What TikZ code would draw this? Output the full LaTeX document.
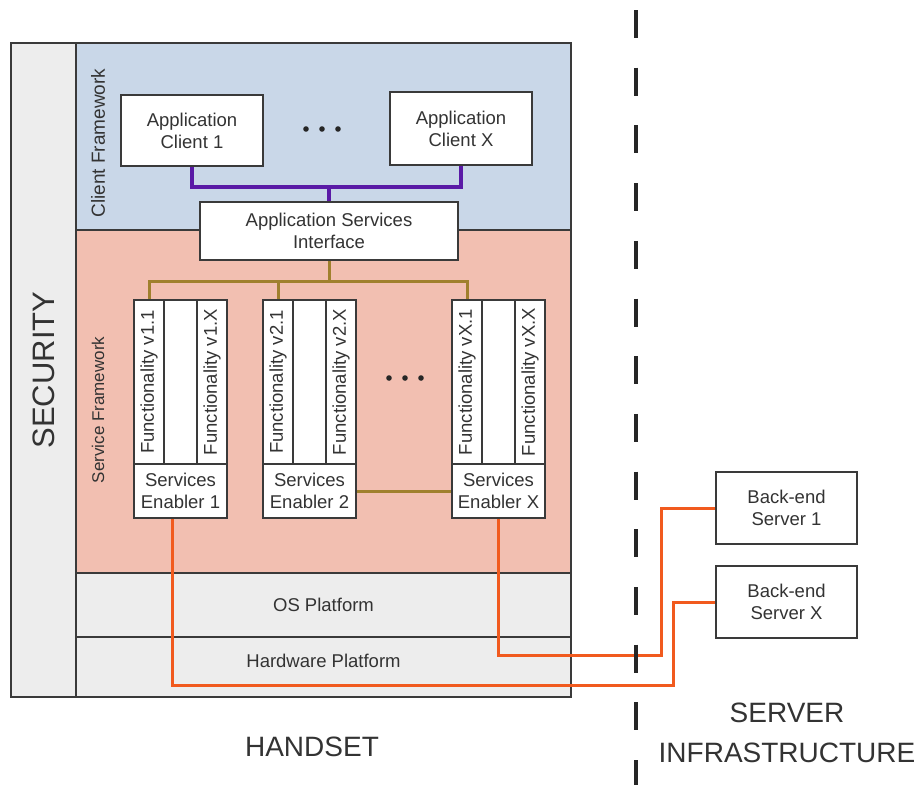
\documentclass[tikz,border=0pt]{standalone}
\usepackage{fontspec}
\usepackage{graphicx}
\setmainfont{Liberation Sans}
\definecolor{txt}{HTML}{333333}
\definecolor{cfblue}{HTML}{C9D7E8}
\definecolor{sfpink}{HTML}{F2BFB1}
\definecolor{platgray}{HTML}{EDEDED}
\definecolor{linepurple}{HTML}{5A1AA6}
\definecolor{lineolive}{HTML}{A0802E}
\definecolor{lineorange}{HTML}{F15A1E}
\definecolor{edge}{HTML}{3A3A3A}
\tikzset{
  region/.style={draw=edge, line width=1.6pt, inner sep=0pt, text=txt, font=\fontsize{18.5}{22}\selectfont},
  box/.style={draw=edge, fill=white, line width=1.8pt, align=center, text=txt, inner sep=0pt, font=\fontsize{18.5}{22}\selectfont},
  lbl/.style={text=txt, inner sep=0pt, align=center, font=\fontsize{19}{22}\selectfont},
  biglbl/.style={text=txt, inner sep=0pt, align=center, font=\fontsize{28}{40}\selectfont},
  purplelink/.style={draw=linepurple, line width=3.6pt},
  olivelink/.style={draw=lineolive, line width=3pt},
  orangelink/.style={draw=lineorange, line width=3pt},
  dashline/.style={draw=black!85, line width=4pt, dash pattern=on 28pt off 29.7pt},
  dotmark/.style={fill=black!85}
}
\begin{document}
\begin{tikzpicture}[x=1pt,y=-1pt]
\useasboundingbox (0,0) rectangle (923,785);
% regions
\node[region, fill=platgray, minimum width=65, minimum height=654] (sec) at (43.5,370) {\fontsize{31}{34}\selectfont\rotatebox{90}{SECURITY}};
\node[region, fill=cfblue, minimum width=495, minimum height=187] (cf) at (323.5,136.5) {};
\node[region, fill=sfpink, minimum width=495, minimum height=343] (sf) at (323.5,401.5) {};
\node[region, fill=platgray, minimum width=495, minimum height=64] (os) at (323.5,605) {OS Platform};
\node[region, fill=platgray, minimum width=495, minimum height=60] (hw) at (323.5,667) {};
\node[lbl, font=\fontsize{18.5}{22}\selectfont] (hwt) at (323.5,661) {Hardware Platform};
\node[lbl] (cft) at (98,143) {\rotatebox{90}{Client Framework}};
\node[lbl, font=\fontsize{17}{20}\selectfont] (sft) at (98,410) {\rotatebox{90}{Service Framework}};
% client boxes
\node[box, minimum width=142, minimum height=71] (c1) at (192,130.5) {Application\\Client 1};
\node[box, minimum width=142, minimum height=73] (cX) at (461,128.5) {Application\\Client X};
\node[box, minimum width=258, minimum height=58] (asi) at (329,231) {Application Services\\Interface};
% functionality stacks
\foreach \k/\x in {1/134, 2/263, X/452} {
  \node[box, minimum width=30, minimum height=164] (fa\k) at (\x+15,382) {\rotatebox{90}{Functionality v\k.1}};
  \node[box, minimum width=33, minimum height=164] (fm\k) at (\x+46.5,382) {};
  \node[box, minimum width=30, minimum height=164] (fb\k) at (\x+78,382) {\rotatebox{90}{Functionality v\k.X}};
  \node[box, minimum width=93, minimum height=54] (e\k) at (\x+46.5,491) {Services\\Enabler \k};
}
% servers
\node[box, minimum width=141, minimum height=72] (s1) at (786.5,508) {Back-end\\Server 1};
\node[box, minimum width=141, minimum height=72] (sX) at (786.5,602) {Back-end\\Server X};
% ellipses
\foreach \dx in {0,16,32} {
  \fill[dotmark] (306+\dx,129) circle (2.8pt);
  \fill[dotmark] (389+\dx,378) circle (2.8pt);
}
% purple connectors
\coordinate (pj) at (329,187);
\draw[purplelink] (c1.south) |- (pj) -| (cX.south);
\draw[purplelink] (pj) -- (asi.north);
% olive connectors
\coordinate (oj) at (329,281);
\draw[olivelink] (asi.south) -- (oj);
\draw[olivelink] (fa1.north) |- (oj) -| (faX.north);
\draw[olivelink] (fa2.north) -- (fa2.north |- oj);
\draw[olivelink] (e2.east) -- (eX.west);
% orange connectors
\coordinate (k1) at (673,685);
\coordinate (k2) at (661,655);
\draw[orangelink] ([xshift=-8pt]e1.south) |- (k1) |- (sX.west);
\draw[orangelink] (eX.south) |- (k2) |- (s1.west);
% divider
\coordinate (dtop) at (636,10);
\coordinate (dbot) at (636,785);
\draw[dashline] (dtop) -- (dbot);
% bottom labels
\node[biglbl] (hs) at (312,747) {HANDSET};
\node[biglbl] (si) at (787,733) {SERVER\\INFRASTRUCTURE};
\end{tikzpicture}
\end{document}
